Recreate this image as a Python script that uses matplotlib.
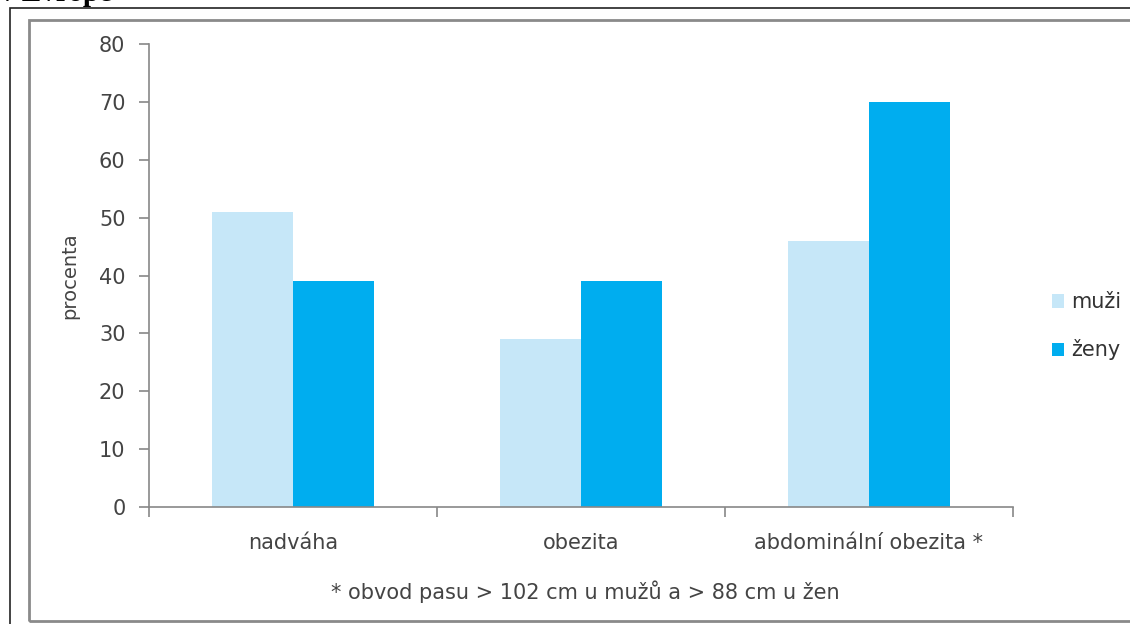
import matplotlib
matplotlib.use("Agg")
import matplotlib.pyplot as plt
import numpy as np
from matplotlib.patches import Rectangle

# data
categories = ['nadváha', 'obezita', 'abdominální obezita *']
muzi = [51, 29, 46]
zeny = [39, 39, 70]
yticks = [0, 10, 20, 30, 40, 50, 60, 70, 80]
footnote = '* obvod pasu > 102 cm u mužů a > 88 cm u žen'

W, H = 1130, 624
fig = plt.figure(figsize=(W / 100, H / 100), dpi=100, facecolor='white')
plt.rcParams['font.family'] = ['DejaVu Sans']
txt = '#444444'

# frames around the chart (outer black, inner grey)
fig.patches.append(Rectangle((10 / W, -0.1), 1.2, (H - 8) / H + 0.1, transform=fig.transFigure,
                             fill=False, edgecolor='#222222', linewidth=1.2))
fig.patches.append(Rectangle((29 / W, 3 / H), 1.2, (H - 20 - 3) / H, transform=fig.transFigure,
                             fill=False, edgecolor='#8a8a8a', linewidth=2))

# heading cut off at the very top (as in the source picture)
fig.text(0 / W, 1 - 1 / H, 'v Evropě', family='Liberation Serif', fontweight='bold',
         fontsize=21, va='baseline', ha='left', color='black')

ax = fig.add_axes([149 / W, (H - 507) / H, (1013 - 149) / W, (507 - 44) / H])
x = np.arange(len(categories))
w = 0.281
ax.bar(x - w / 2, muzi, w, color='#c6e7f8', label='muži')
ax.bar(x + w / 2, zeny, w, color='#00adef', label='ženy')

ax.set_xlim(-0.5, 2.5)
ax.set_ylim(0, 80)
ax.set_yticks(yticks)
ax.set_yticklabels([str(v) for v in yticks], color=txt, fontsize=15)
ax.set_xticks([-0.5, 0.5, 1.5, 2.5])
ax.set_xticklabels([])
ax.set_xticks(x, minor=True)
ax.set_xticklabels(categories, minor=True, color=txt, fontsize=15)
ax.tick_params(axis='x', which='major', direction='out', length=7, color='#888888', width=1.2)
ax.tick_params(axis='x', which='minor', length=0, pad=19)
ax.tick_params(axis='y', direction='out', length=7, color='#888888', width=1.2, pad=10)
for s in ['top', 'right']:
    ax.spines[s].set_visible(False)
for s in ['left', 'bottom']:
    ax.spines[s].set_color('#888888')
    ax.spines[s].set_linewidth(1.2)
ax.set_ylabel('procenta', color=txt, fontsize=14, labelpad=14)

ax.legend(loc='center left', bbox_to_anchor=(1.033, 0.39), frameon=False, fontsize=15,
          labelcolor='#333333', handlelength=0.6, handleheight=0.6, handletextpad=0.3,
          labelspacing=1.3, borderpad=0)

fig.text(585 / W, 1 - 592 / H, footnote, ha='center', va='center', color=txt, fontsize=15)

fig.savefig('out.png', dpi=100, facecolor='white')
